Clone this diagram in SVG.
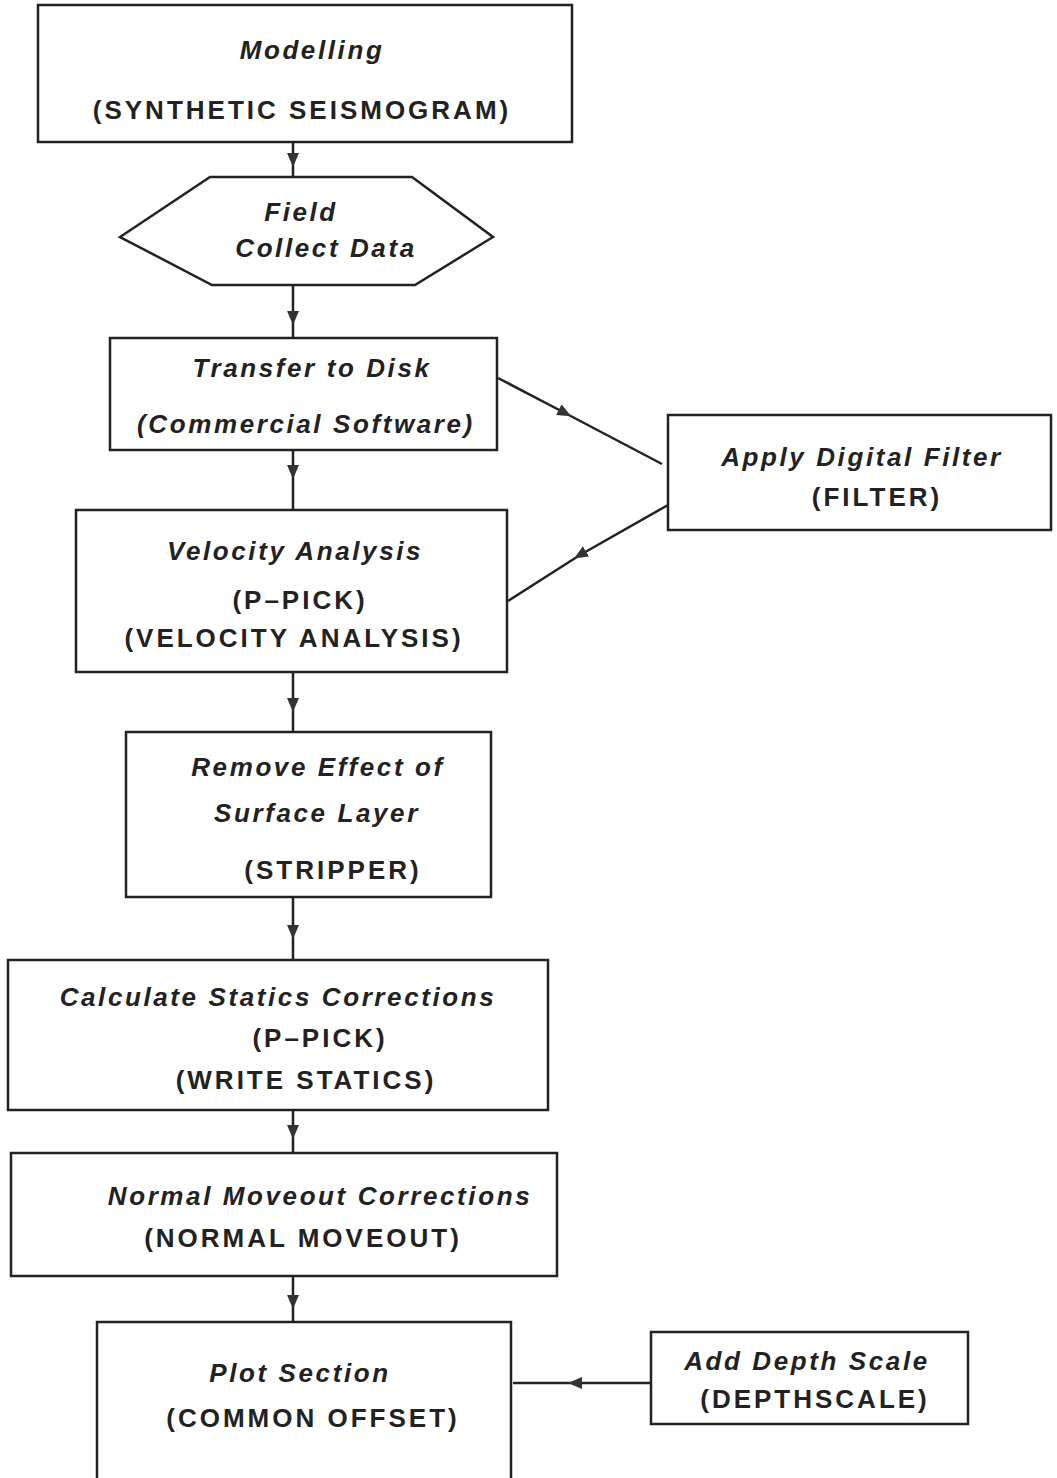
<svg xmlns="http://www.w3.org/2000/svg" width="1057" height="1478" viewBox="0 0 1057 1478">
<defs>
<style>
.box{fill:#fff;stroke:#222;stroke-width:2.5}
.con{fill:none;stroke:#222;stroke-width:2.5}
text{font-family:"Liberation Sans",Arial,sans-serif;font-weight:bold;fill:#222;text-anchor:middle;font-size:26px;letter-spacing:3px}
.it{font-style:italic;letter-spacing:2.6px}
</style>
<marker id="ah" viewBox="0 0 14 12" refX="7" refY="6" markerWidth="14" markerHeight="12" markerUnits="userSpaceOnUse" orient="auto">
<path d="M0,0 L14,6 L0,12 Z" fill="#333"/>
</marker>
</defs>
<rect width="1057" height="1478" fill="#fff"/>
<g id="connectors">
<path class="con" d="M293,142 L293,160 L293,177" marker-mid="url(#ah)"/>
<path class="con" d="M293,285 L293,318 L293,338" marker-mid="url(#ah)"/>
<path class="con" d="M293,450 L293,472 L293,510" marker-mid="url(#ah)"/>
<path class="con" d="M293,672 L293,705 L293,732" marker-mid="url(#ah)"/>
<path class="con" d="M293,897 L293,932 L293,960" marker-mid="url(#ah)"/>
<path class="con" d="M293,1110 L293,1132 L293,1153" marker-mid="url(#ah)"/>
<path class="con" d="M293,1276 L293,1302 L293,1322" marker-mid="url(#ah)"/>
<path class="con" d="M498,378 L565,413 L662,464" marker-mid="url(#ah)"/>
<path class="con" d="M668,505 L580,555 L508,601" marker-mid="url(#ah)"/>
<path class="con" d="M651,1383 L575,1383 L513,1383" marker-mid="url(#ah)"/>
</g>
<g id="modelling">
<rect class="box" x="38" y="5" width="534" height="137"/>
<text class="it" x="312" y="59">Modelling</text>
<text x="302" y="119">(SYNTHETIC SEISMOGRAM)</text>
</g>
<g id="field">
<polygon class="box" points="210,177 412,177 493,237 415,285 212,285 120,237"/>
<text class="it" x="301" y="221">Field</text>
<text class="it" x="326" y="257">Collect Data</text>
</g>
<g id="transfer">
<rect class="box" x="110" y="338" width="387" height="112"/>
<text class="it" x="312" y="377">Transfer to Disk</text>
<text class="it" x="306" y="433">(Commercial Software)</text>
</g>
<g id="filter">
<rect class="box" x="668" y="415" width="383" height="115"/>
<text class="it" x="862" y="466">Apply Digital Filter</text>
<text x="877" y="506">(FILTER)</text>
</g>
<g id="velocity">
<rect class="box" x="76" y="510" width="431" height="162"/>
<text class="it" x="295" y="560">Velocity Analysis</text>
<text x="300" y="609">(P–PICK)</text>
<text x="294" y="647">(VELOCITY ANALYSIS)</text>
</g>
<g id="remove">
<rect class="box" x="126" y="732" width="365" height="165"/>
<text class="it" x="318" y="776">Remove Effect of</text>
<text class="it" x="317" y="822">Surface Layer</text>
<text x="333" y="879">(STRIPPER)</text>
</g>
<g id="statics">
<rect class="box" x="8" y="960" width="540" height="150"/>
<text class="it" x="278" y="1006">Calculate Statics Corrections</text>
<text x="320" y="1047">(P–PICK)</text>
<text x="306" y="1089">(WRITE STATICS)</text>
</g>
<g id="nmo">
<rect class="box" x="11" y="1153" width="546" height="123"/>
<text class="it" x="320" y="1205">Normal Moveout Corrections</text>
<text x="303" y="1247">(NORMAL MOVEOUT)</text>
</g>
<g id="plot">
<rect class="box" x="97" y="1322" width="414" height="170"/>
<text class="it" x="300" y="1382">Plot Section</text>
<text x="313" y="1427">(COMMON OFFSET)</text>
</g>
<g id="depth">
<rect class="box" x="651" y="1332" width="317" height="92"/>
<text class="it" x="807" y="1370">Add Depth Scale</text>
<text x="815" y="1408">(DEPTHSCALE)</text>
</g>
</svg>
